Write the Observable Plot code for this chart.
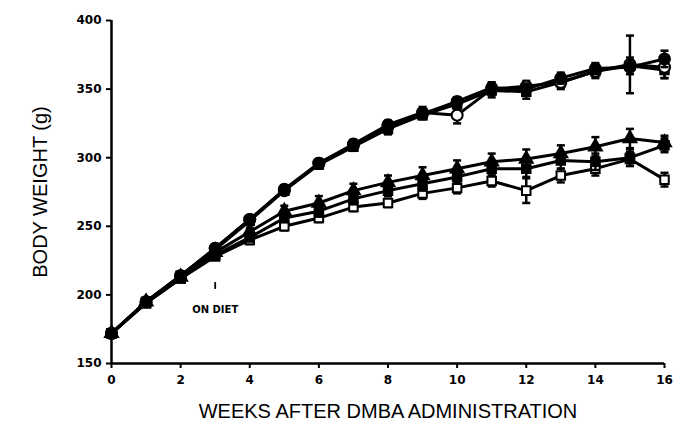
<!DOCTYPE html>
<html><head><meta charset="utf-8">
<script src="https://cdn.jsdelivr.net/npm/d3@7"></script>
<script src="https://cdn.jsdelivr.net/npm/@observablehq/plot@0.6"></script>
<style>body{margin:0;background:#fff}</style>
</head><body><div id="chart"></div>
<script>
// ---- data ----
const weeks = [0,1,2,3,4,5,6,7,8,9,10,11,12,13,14,15,16];
const xTicks = [0,2,4,6,8,10,12,14,16];
const yTicks = [150,200,250,300,350,400];
const xLabel = "WEEKS AFTER DMBA ADMINISTRATION";
const yLabel = "BODY WEIGHT (g)";
const dietLabel = "ON DIET";
const dietWeek = 3;

const highA  = [172,195,214,234,255,277,296,309,323,332,341,351,350,358,365,366,372];
const highAe = [1,2,2,2,2,3,3,3,3,3,3,4,4,4,4,5,6];
const highB  = [172,195,214,234,255,276,296,310,324,333,331,350,352,355,363,368,366];
const highBe = [1,2,2,2,2,3,3,3,3,4,6,4,4,4,4,21,8];
const highC  = [172,195,214,233,254,276,295,308,321,331,339,349,348,355,363,367,364];
const highCe = [1,2,2,2,2,3,3,3,4,3,4,5,5,5,5,6,6];
const lowD   = [172,195,213,231,246,261,267,276,282,287,292,297,299,303,308,314,311];
const lowDe  = [1,2,2,2,3,4,5,5,5,6,6,6,7,6,7,7,5];
const lowE   = [172,194,212,229,242,256,261,270,276,281,286,292,292,298,297,300,309];
const lowEe  = [1,2,2,2,3,3,4,4,4,5,5,5,6,6,6,6,5];
const lowF   = [172,194,212,228,240,250,256,264,267,274,278,283,276,287,292,299,284];
const lowFe  = [1,2,2,2,3,3,3,3,3,4,4,4,9,5,5,5,5];

// ---- styles (separate from data) ----
const seriesDefs = [
  {values: lowF, errors: lowFe, symbol: "square", fill: "white"},
  {values: lowE, errors: lowEe, symbol: "square", fill: "black"},
  {values: lowD, errors: lowDe, symbol: "triangle", fill: "black"},
  {values: highC, errors: highCe, symbol: "square", fill: "black"},
  {values: highB, errors: highBe, symbol: "circle", fill: "white"},
  {values: highA, errors: highAe, symbol: "circle", fill: "black"}
];

const cap = {draw(ctx, size) { const w = Math.sqrt(size / Math.PI); ctx.moveTo(-w, 0); ctx.lineTo(w, 0); }};

const marks = [];
for (const s of seriesDefs) {
  const rows = weeks.map((w, i) => ({week: w, v: s.values[i], lo: s.values[i] - s.errors[i], hi: s.values[i] + s.errors[i]}));
  marks.push(Plot.line(rows, {x: "week", y: "v", stroke: "black", strokeWidth: 3}));
  marks.push(Plot.ruleX(rows, {x: "week", y1: "lo", y2: "hi", stroke: "black", strokeWidth: 2.5}));
  marks.push(Plot.dot(rows, {x: "week", y: "hi", symbol: cap, r: 4, stroke: "black", strokeWidth: 2.5}));
  marks.push(Plot.dot(rows, {x: "week", y: "lo", symbol: cap, r: 4, stroke: "black", strokeWidth: 2.5}));
  marks.push(Plot.dot(rows, {x: "week", y: "v", symbol: s.symbol, r: s.symbol === "circle" ? 5.5 : 4.8, fill: s.fill, stroke: "black", strokeWidth: 2}));
}

const chart = Plot.plot({
  width: 674, height: 433,
  marginLeft: 111, marginRight: 10, marginTop: 20, marginBottom: 70,
  style: {fontFamily: "DejaVu Sans", fontSize: "12px", color: "black", background: "white"},
  x: {domain: [0, 16]},
  y: {domain: [150, 400]},
  marks: [
    Plot.axisX({ticks: xTicks, tickSize: 5, tickPadding: 7, strokeWidth: 2, fontWeight: "bold", fontSize: 12, label: null}),
    Plot.axisY({ticks: yTicks, tickSize: 5, tickPadding: 5, strokeWidth: 2, fontWeight: "bold", fontSize: 12, label: null}),
    Plot.ruleX([0], {stroke: "black", strokeWidth: 2.5}),
    Plot.ruleY([150], {stroke: "black", strokeWidth: 2.5}),
    ...marks,
    Plot.ruleX([dietWeek], {y1: 204, y2: 209, stroke: "black", strokeWidth: 1.8}),
    Plot.text([dietLabel], {x: () => dietWeek, y: () => 189.5, fontSize: 10, fontWeight: "bold", fontFamily: "DejaVu Sans", textAnchor: "middle", lineAnchor: "middle"}),
    Plot.text([yLabel], {frameAnchor: "left", dx: -71, rotate: -90, fontSize: 20, textAnchor: "middle", lineAnchor: "middle", fontFamily: "Liberation Sans"}),
    Plot.text([xLabel], {frameAnchor: "bottom", dy: 48, fontSize: 20, textAnchor: "middle", lineAnchor: "middle", fontFamily: "Liberation Sans"})
  ]
});
document.getElementById("chart").append(chart);
</script>
</body></html>
